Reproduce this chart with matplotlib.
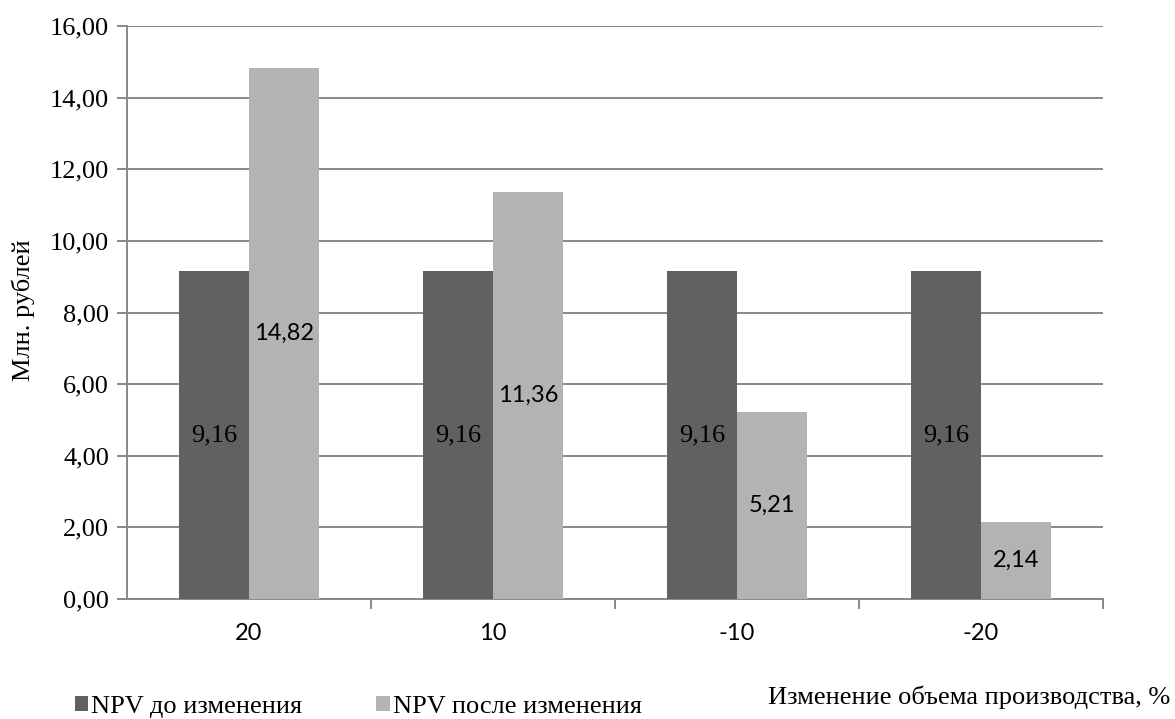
import matplotlib
matplotlib.use("Agg")
import matplotlib.pyplot as plt
import numpy as np
from matplotlib.ticker import FixedLocator, NullFormatter

categories = ["20", "10", "-10", "-20"]
npv_before = [9.16, 9.16, 9.16, 9.16]
npv_after = [14.82, 11.36, 5.21, 2.14]
yticks = [0, 2, 4, 6, 8, 10, 12, 14, 16]

serif = "Liberation Serif"
sans = "Lato"

fig = plt.figure(figsize=(11.75, 7.19), dpi=100)
ax = fig.add_axes([127 / 1175, 1 - 599 / 719, (1103 - 127) / 1175, (599 - 26) / 719])

x = np.arange(len(categories))
w = 0.286
dark = "#616161"
light = "#b3b3b3"
b1 = ax.bar(x - w / 2, npv_before, width=w, color=dark, zorder=3, label="NPV до изменения")
b2 = ax.bar(x + w / 2, npv_after, width=w, color=light, zorder=3, label="NPV после изменения")

for rect, v in zip(b1, npv_before):
    ax.text(rect.get_x() + rect.get_width() / 2, v / 2, f"{v:.2f}".replace(".", ","),
            ha="center", va="center", fontsize=19, family=serif, color="black", zorder=4)
for rect, v in zip(b2, npv_after):
    ax.text(rect.get_x() + rect.get_width() / 2, v / 2, f"{v:.2f}".replace(".", ","),
            ha="center", va="center", fontsize=17, family=sans, color="black", zorder=4)

ax.set_xlim(-0.5, len(categories) - 0.5)
ax.set_ylim(0, 16)
grid_c = "#888888"
ax.set_yticks(yticks)
ax.set_yticklabels([f"{t:.2f}".replace(".", ",") for t in yticks], family=serif, fontsize=19)
ax.yaxis.grid(True, color=grid_c, linewidth=1.4, zorder=0)
ax.tick_params(axis="y", length=7, width=1.4, color=grid_c, pad=6)

ax.set_xticks(x)
ax.set_xticklabels(categories, family=sans, fontsize=17)
ax.tick_params(axis="x", which="major", length=0, pad=17)
ax.xaxis.set_minor_locator(FixedLocator(list(np.arange(len(categories)) + 0.5)))
ax.xaxis.set_minor_formatter(NullFormatter())
ax.tick_params(axis="x", which="minor", length=7, width=1.4, color=grid_c)

for s in ["top", "right"]:
    ax.spines[s].set_visible(False)
for s in ["left", "bottom"]:
    ax.spines[s].set_color(grid_c)
    ax.spines[s].set_linewidth(1.4)

fig.text(23 / 1175, 1 - 310 / 719, "Млн. рублей", rotation=90, ha="center", va="center",
         family=serif, fontsize=19)
fig.text(1170 / 1175, 1 - 697 / 719, "Изменение объема производства, %", ha="right", va="center",
         family=serif, fontsize=19)

leg = fig.legend(handles=[b1, b2], loc="center left", bbox_to_anchor=(75 / 1175, 1 - 707 / 719),
                 ncol=2, frameon=False, prop={"family": serif, "size": 19},
                 handlelength=0.5, handleheight=0.5, handletextpad=0.12, columnspacing=2.8,
                 borderaxespad=0, borderpad=0)

fig.savefig("out.png", dpi=100)
